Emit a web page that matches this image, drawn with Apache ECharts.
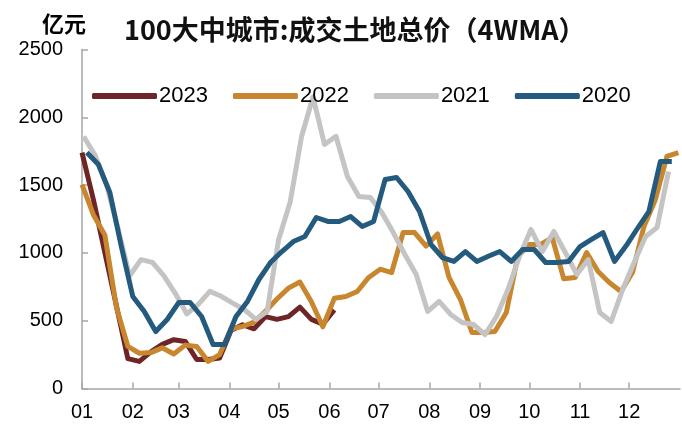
<!DOCTYPE html>
<html>
<head>
<meta charset="utf-8">
<script src="https://cdn.jsdelivr.net/npm/echarts@6/dist/echarts.min.js"></script>
<style>
html,body{margin:0;padding:0;background:#fff;}
#chart{width:682px;height:430px;}
</style>
</head>
<body>
<div id="chart"></div>
<script>
// ---- data ----
const monthLabels = ['01','02','03','04','05','06','07','08','09','10','11','12'];
const monthStartDays = [0,31,59,90,120,151,181,212,243,273,304,334];
const yTicks = [0,500,1000,1500,2000,2500];
const seriesNames = ['2023','2022','2021','2020'];
// first week's day-of-year for each series (weekly data, 4WMA)
const start2023 = 0, start2022 = 0, start2021 = 1, start2020 = 3;
const v2023 = [1740,1390,1000,610,220,200,270,325,360,347,214,214,225,430,470,440,530,510,530,600,510,475,580];
const v2022 = [1504,1280,1130,600,310,260,265,300,255,320,310,200,250,440,457,490,570,660,740,785,640,455,665,678,715,819,880,855,1150,1150,1050,1140,820,656,413,413,420,560,973,1062,1062,1113,810,819,1003,863,780,715,855,1195,1394,1711,1740];
const v2021 = [1858,1720,1500,1180,830,950,930,830,700,550,620,716,680,630,583,509,568,1099,1371,1858,2150,1800,1860,1563,1416,1408,1298,1150,990,840,568,642,546,487,472,398,531,730,973,1173,1010,1158,1003,841,951,560,494,730,929,1121,1187,1600];
const v2020 = [1740,1652,1445,1047,678,568,420,509,634,634,531,324,324,531,642,804,929,1010,1084,1121,1261,1232,1232,1268,1195,1232,1541,1556,1453,1305,1062,966,937,1010,937,975,1010,937,1025,1025,929,929,937,1047,1099,1150,937,1050,1180,1305,1674,1674];
const colors = ['#6E2527','#C8862F','#C4C4C4','#245A7E'];

function weekly(start, vals){ return vals.map((v,i)=>[start + 7*i, v]); }
const seriesData = [weekly(start2023,v2023), weekly(start2022,v2022), weekly(start2021,v2021), weekly(start2020,v2020)];

const chart = echarts.init(document.getElementById('chart'), null, {renderer:'canvas'});
const font = '"Liberation Sans", Arial, sans-serif';
chart.setOption({
  animation:false,
  backgroundColor:'#fff',
  title:[
    {text:'亿元', left:37, top:8, textStyle:{fontSize:22, fontWeight:'bold', color:'#000', fontFamily:'"Noto Sans CJK SC", sans-serif'}},
    {text:'100大中城市:成交土地总价（4WMA）', left:119, top:11, textStyle:{fontSize:27, fontWeight:'bold', color:'#111', fontFamily:'"Noto Sans CJK SC", sans-serif'}}
  ],
  legend:{
    data:seriesNames, left:87, top:80, itemWidth:65, itemHeight:6, itemGap:25,
    icon:'roundRect',
    textStyle:{fontSize:22, color:'#000', fontFamily:font, padding:[0,0,0,-3]}
  },
  grid:{left:82, right:2, top:49.5, bottom:41.5, containLabel:false},
  xAxis:{
    type:'value', min:0, max:365,
    axisLine:{show:true, lineStyle:{color:'#A6A6A6', width:1.5}},
    axisTick:{show:true, inside:true, length:6, customValues:monthStartDays, lineStyle:{color:'#A6A6A6', width:1.5}},
    axisLabel:{customValues:monthStartDays, formatter:(v)=>monthLabels[monthStartDays.indexOf(v)], fontSize:20, color:'#000', fontFamily:font, margin:14},
    splitLine:{show:false}
  },
  yAxis:{
    type:'value', min:yTicks[0], max:yTicks[yTicks.length-1], interval:500,
    axisLine:{show:true, lineStyle:{color:'#A6A6A6', width:1.5}},
    axisTick:{show:true, inside:true, length:6, lineStyle:{color:'#A6A6A6', width:1.5}},
    axisLabel:{fontSize:20, color:'#000', fontFamily:font, margin:19, formatter:(v)=>String(v)},
    splitLine:{show:false}
  },
  series: seriesNames.map((n,i)=>({
    name:n, type:'line', data:seriesData[i], showSymbol:false, symbol:'none',
    lineStyle:{width:5, color:colors[i], join:'round'}, itemStyle:{color:colors[i]}
  }))
});
</script>
</body>
</html>
